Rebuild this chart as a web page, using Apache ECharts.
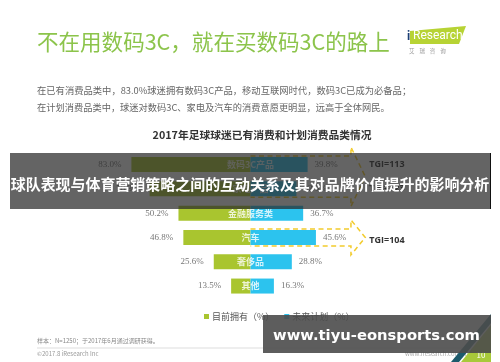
<!DOCTYPE html>
<html><head><meta charset="utf-8">
<script src="https://cdn.jsdelivr.net/npm/echarts@6/dist/echarts.min.js"></script>
<style>html,body{margin:0;padding:0;background:#fff}#c{width:500px;height:362px}</style>
</head><body><div id="c"></div>
<script>
const categories = ['数码3C产品', '家电产品', '金融服务类', '汽车', '奢侈品', '其他'];
const owned = [83.0, 70.3, 50.2, 46.8, 25.6, 13.5];
const planned = [39.8, 32.0, 36.7, 45.6, 28.8, 16.3];
const seriesNames = ['目前拥有（%）', '未来计划（%）'];
const tgiGroups = [{from: 0, to: 1, labels: ['TGI=113', 'TGI=123']}, {from: 3, to: 3, labels: ['TGI=104']}];

const CJK = '"Noto Sans CJK SC", sans-serif';
const GREEN = '#a9c52f', BLUE = '#2cc3ee';
const chart = echarts.init(document.getElementById('c'), null, {renderer: 'canvas'});

function fit(text, weight, family, width) {
  const c = document.createElement('canvas').getContext('2d');
  c.font = weight + ' 100px ' + family;
  return 100 * width / c.measureText(text).width;
}

chart.setOption({
  animation: false,
  backgroundColor: '#fff',
  grid: {left: 107, right: 106, top: 152.4, bottom: 63.8},
  xAxis: {type: 'value', min: -100, max: 100, show: false},
  yAxis: {type: 'category', data: categories, inverse: true, show: false},
  legend: {
    data: seriesNames, left: 199, top: 307, icon: 'rect', itemWidth: 5, itemHeight: 5, itemGap: 10,
    textStyle: {fontSize: 9, color: '#555', fontFamily: CJK, padding: [0, 0, 0, -2]}
  },
  series: [
    {name: seriesNames[0], type: 'bar', data: owned.map(v => -v), barWidth: 15, barGap: '-100%',
      itemStyle: {color: GREEN},
      label: {show: true, position: 'left', distance: 10, formatter: p => Math.abs(p.value).toFixed(1) + '%',
        fontFamily: '"Liberation Serif", serif', fontSize: 9, color: '#777'}},
    {name: seriesNames[1], type: 'bar', data: planned, barWidth: 15,
      itemStyle: {color: BLUE},
      label: {show: true, position: 'right', distance: 7, formatter: p => p.value.toFixed(1) + '%',
        fontFamily: '"Liberation Serif", serif', fontSize: 9, color: '#777'}},
    {name: 'cat', type: 'scatter', symbolSize: 0, data: categories.map(c => [0, c]), z: 5,
      label: {show: true, position: 'inside', formatter: p => p.value[1],
        fontFamily: CJK, fontWeight: 'bold', fontSize: 9, color: '#fff'}}
  ]
});

const G = [];
// header
const mainTitle = '不在用数码3C，就在买数码3C的路上';
G.push({type: 'text', x: 37, y: 42, z: 50, style: {text: mainTitle, fontSize: fit(mainTitle, 'normal', CJK, 353), fontFamily: CJK, fill: '#8cc44b', textVerticalAlign: 'middle'}});
G.push({type: 'polygon', z: 50, shape: {points: [[410, 31], [466, 26], [459, 44], [410, 44]]}, style: {fill: '#b7d334'}});
G.push({type: 'text', x: 413, y: 36, z: 51, style: {text: 'Research', fontSize: 12, fontFamily: 'Roboto, sans-serif', fill: '#fff', textVerticalAlign: 'middle'}});
G.push({type: 'text', x: 407, y: 37, z: 51, style: {text: 'i', fontSize: 12, fontWeight: 'bold', fontFamily: 'Roboto, sans-serif', fill: '#1c3e74', textVerticalAlign: 'middle'}});
G.push({type: 'text', x: 409, y: 51, z: 51, style: {text: '艾    瑞    咨    询', fontSize: 5.5, fontFamily: CJK, fill: '#999', textVerticalAlign: 'middle'}});
const sub1 = '在已有消费品类中，83.0%球迷拥有数码3C产品，移动互联网时代，数码3C已成为必备品；';
const sub2 = '在计划消费品类中，球迷对数码3C、家电及汽车的消费意愿更明显，远高于全体网民。';
G.push({type: 'text', x: 37, y: 90, z: 50, style: {text: sub1, fontSize: fit(sub1, 'normal', CJK, 375), fontFamily: CJK, fill: '#666', textVerticalAlign: 'middle'}});
G.push({type: 'text', x: 37, y: 107, z: 50, style: {text: sub2, fontSize: fit(sub2, 'normal', CJK, 353), fontFamily: CJK, fill: '#666', textVerticalAlign: 'middle'}});
const chartTitle = '2017年足球球迷已有消费和计划消费品类情况';
G.push({type: 'text', x: 262, y: 135, z: 50, style: {text: chartTitle, fontSize: fit(chartTitle, 'bold', CJK, 219), fontWeight: 'bold', fontFamily: CJK, fill: '#333', textAlign: 'center', textVerticalAlign: 'middle'}});

// dashed TGI arrows computed from the chart's own scales
const px = (x, cat) => chart.convertToPixel({gridIndex: 0}, [x, cat]);
tgiGroups.forEach(g => {
  const a = px(0, categories[g.from]), b = px(0, categories[g.to]);
  const xb = px(70, categories[g.from])[0], xh = px(80, categories[g.from])[0];
  const top = a[1] - 8.5, bot = b[1] + 8.5, mid = (top + bot) / 2;
  G.push({type: 'polyline', z: 40, shape: {points: [[a[0], top], [xb, top], [xb, top - 9], [xh, mid], [xb, bot + 9], [xb, bot], [a[0], bot]]},
    style: {stroke: '#f2cb2c', lineWidth: 1.5, lineDash: [5, 3.5], fill: null}});
  g.labels.forEach((t, i) => {
    const p = px(0, categories[g.from + i]);
    const yy = g.from === g.to ? mid + 3 : p[1];
    G.push({type: 'text', x: xh + 4, y: yy, z: 41, style: {text: t, fontSize: 9, fontWeight: 'bold', fontFamily: '"Open Sans", sans-serif', fill: '#333', textVerticalAlign: 'middle'}});
  });
});

// footer
G.push({type: 'text', x: 37, y: 341, z: 50, style: {text: '样本：N=1250；于2017年6月通过调研获得。', fontSize: 6, fontFamily: CJK, fill: '#888', textVerticalAlign: 'middle'}});
G.push({type: 'line', z: 50, shape: {x1: 37, y1: 348, x2: 478, y2: 348}, style: {stroke: '#ddd', lineWidth: 1}});
G.push({type: 'text', x: 37, y: 354, z: 50, style: {text: '©2017.8 iResearch Inc', fontSize: 6, fontFamily: CJK, fill: '#999', textVerticalAlign: 'middle'}});
G.push({type: 'text', x: 405, y: 354, z: 50, style: {text: 'www.iresearch.com.cn', fontSize: 6, fontFamily: CJK, fill: '#aaa', textVerticalAlign: 'middle'}});
G.push({type: 'polygon', z: 50, shape: {points: [[491, 314], [491, 323], [459, 362], [451, 362]]}, style: {fill: '#1d5a6b'}});
G.push({type: 'polygon', z: 50, shape: {points: [[491, 325], [491, 362], [461, 362]]}, style: {fill: '#a8c93a'}});
G.push({type: 'text', x: 481, y: 355, z: 51, style: {text: '10', fontSize: 8, fontFamily: CJK, fill: '#fff', textAlign: 'center', textVerticalAlign: 'middle'}});

// overlay banner
const bannerText = '球队表现与体育营销策略之间的互动关系及其对品牌价值提升的影响分析';
G.push({type: 'rect', z: 100, shape: {x: 10, y: 153, width: 481, height: 56}, style: {fill: 'rgba(40,40,40,0.72)'}});
G.push({type: 'line', z: 101, shape: {x1: 490.5, y1: 153, x2: 490.5, y2: 209}, style: {stroke: '#111', lineWidth: 1}});
G.push({type: 'text', x: 250, y: 184, z: 102, style: {text: bannerText, fontSize: fit(bannerText, 'bold', CJK, 479), fontWeight: 'bold', fontFamily: CJK, fill: '#fff', textAlign: 'center', textVerticalAlign: 'middle'}});
// watermark
const wm = 'www.tiyu-eonsports.com';
G.push({type: 'rect', z: 100, shape: {x: 263, y: 315, width: 228, height: 38}, style: {fill: 'rgba(75,75,75,0.9)'}});
G.push({type: 'text', x: 376.5, y: 336, z: 102, style: {text: wm, fontSize: fit(wm, 'bold', '"DejaVu Sans", sans-serif', 207), fontWeight: 'bold', fontFamily: '"DejaVu Sans", sans-serif', fill: '#fff', textAlign: 'center', textVerticalAlign: 'middle'}});

chart.setOption({graphic: G});
</script></body></html>
